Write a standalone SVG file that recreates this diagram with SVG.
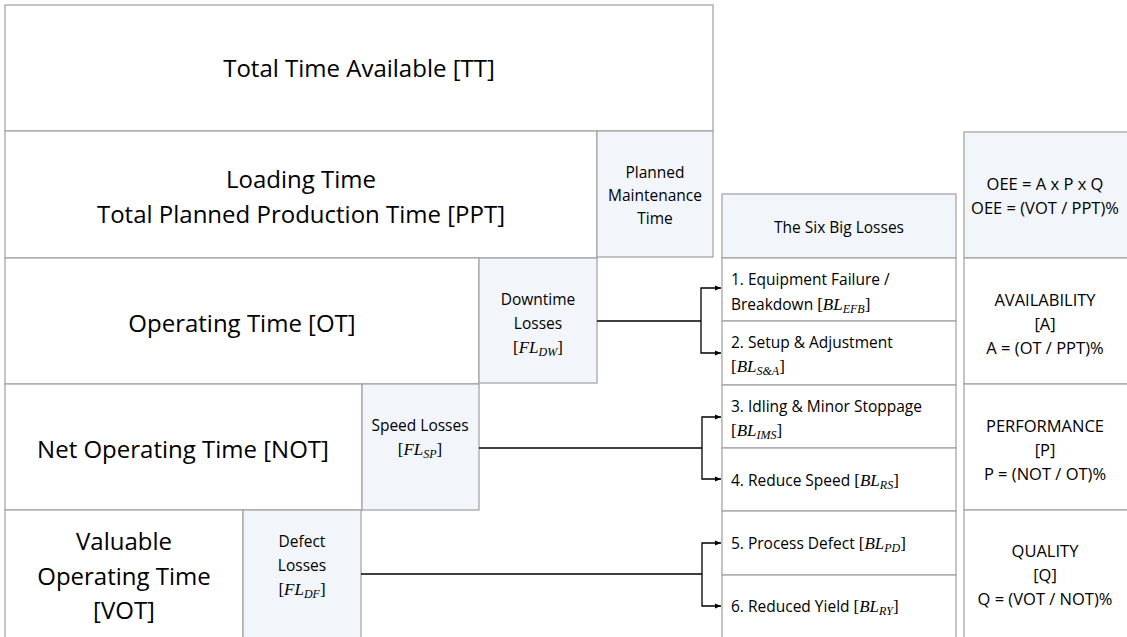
<svg xmlns="http://www.w3.org/2000/svg" width="1127" height="637" viewBox="0 0 1127 637">
  <style>
    .box { fill: #ffffff; stroke: #a6a6a6; stroke-width: 1.3; }
    .loss { fill: #f2f5fa; stroke: #a6a6a6; stroke-width: 1.3; }
    .big { font-family: "Open Sans", "Liberation Sans", sans-serif; font-size: 24px; fill: #000; text-anchor: middle; }
    .sm { font-family: "Open Sans", "Liberation Sans", sans-serif; font-size: 15.5px; fill: #000; text-anchor: middle; }
    .rt { font-size: 16.5px; }
    .lft { text-anchor: start; }
    .m { font-family: "Liberation Serif", "DejaVu Serif", serif; font-style: italic; font-size: 17px; }
    .ms { font-family: "Liberation Serif", "DejaVu Serif", serif; font-style: italic; font-size: 12px; }
    .br { font-family: "Liberation Serif", "DejaVu Serif", serif; font-size: 17px; }
    .conn { fill: none; stroke: #000; stroke-width: 1.3; }
  </style>
  <defs>
    <marker id="arrow" viewBox="0 0 10 10" refX="10" refY="5" markerWidth="6" markerHeight="6" orient="auto" markerUnits="userSpaceOnUse">
      <path d="M0,1 L10,5 L0,9 Z" fill="#000"/>
    </marker>
  </defs>

  <!-- time stack -->
  <g id="total-time">
    <rect class="box" x="5" y="5" width="708" height="126"/>
    <text class="big" x="359" y="77" font-size="26.5">Total Time Available [TT]</text>
  </g>
  <g id="loading-time">
    <rect class="box" x="5" y="131" width="592" height="127"/>
    <text class="big" x="301" y="188">Loading Time</text>
    <text class="big" x="301" y="223">Total Planned Production Time [PPT]</text>
  </g>
  <g id="planned-maintenance">
    <rect class="loss" x="597" y="131" width="116" height="126"/>
    <text class="sm" x="655" y="178">Planned</text>
    <text class="sm" x="655" y="201">Maintenance</text>
    <text class="sm" x="655" y="224">Time</text>
  </g>
  <g id="operating-time">
    <rect class="box" x="5" y="258" width="474" height="126"/>
    <text class="big" x="242" y="332">Operating Time [OT]</text>
  </g>
  <g id="downtime-losses">
    <rect class="loss" x="479" y="258" width="118" height="125"/>
    <text class="sm" x="538" y="305">Downtime</text>
    <text class="sm" x="538" y="329">Losses</text>
    <text class="sm" x="538" y="353"><tspan class="br">[</tspan><tspan class="m">FL</tspan><tspan class="ms" dy="3">DW</tspan><tspan class="br" dy="-3">]</tspan></text>
  </g>
  <g id="net-operating-time">
    <rect class="box" x="5" y="384" width="357" height="126"/>
    <text class="big" x="183" y="458">Net Operating Time [NOT]</text>
  </g>
  <g id="speed-losses">
    <rect class="loss" x="362" y="384" width="117" height="126"/>
    <text class="sm" x="420" y="431">Speed Losses</text>
    <text class="sm" x="420" y="455"><tspan class="br">[</tspan><tspan class="m">FL</tspan><tspan class="ms" dy="3">SP</tspan><tspan class="br" dy="-3">]</tspan></text>
  </g>
  <g id="valuable-operating-time">
    <rect class="box" x="5" y="510" width="238" height="130"/>
    <text class="big" x="124" y="550">Valuable</text>
    <text class="big" x="124" y="585">Operating Time</text>
    <text class="big" x="124" y="619">[VOT]</text>
  </g>
  <g id="defect-losses">
    <rect class="loss" x="243" y="510" width="118" height="130"/>
    <text class="sm" x="302" y="547">Defect</text>
    <text class="sm" x="302" y="571">Losses</text>
    <text class="sm" x="302" y="595"><tspan class="br">[</tspan><tspan class="m">FL</tspan><tspan class="ms" dy="3">DF</tspan><tspan class="br" dy="-3">]</tspan></text>
  </g>

  <!-- six big losses table -->
  <g id="six-big-losses">
    <rect class="loss" x="722" y="194" width="234" height="64"/>
    <text class="sm" x="839" y="233">The Six Big Losses</text>
  </g>
  <g id="loss-1">
    <rect class="box" x="722" y="258" width="234" height="63"/>
    <text class="sm lft" x="731" y="285">1. Equipment Failure /</text>
    <text class="sm lft" x="731" y="310">Breakdown <tspan class="br">[</tspan><tspan class="m">BL</tspan><tspan class="ms" dy="3">EFB</tspan><tspan class="br" dy="-3">]</tspan></text>
  </g>
  <g id="loss-2">
    <rect class="box" x="722" y="321" width="234" height="64"/>
    <text class="sm lft" x="731" y="348">2. Setup &amp; Adjustment</text>
    <text class="sm lft" x="731" y="372"><tspan class="br">[</tspan><tspan class="m">BL</tspan><tspan class="ms" dy="3">S&amp;A</tspan><tspan class="br" dy="-3">]</tspan></text>
  </g>
  <g id="loss-3">
    <rect class="box" x="722" y="385" width="234" height="63"/>
    <text class="sm lft" x="731" y="412">3. Idling &amp; Minor Stoppage</text>
    <text class="sm lft" x="731" y="436"><tspan class="br">[</tspan><tspan class="m">BL</tspan><tspan class="ms" dy="3">IMS</tspan><tspan class="br" dy="-3">]</tspan></text>
  </g>
  <g id="loss-4">
    <rect class="box" x="722" y="448" width="234" height="63"/>
    <text class="sm lft" x="731" y="486">4. Reduce Speed <tspan class="br">[</tspan><tspan class="m">BL</tspan><tspan class="ms" dy="3">RS</tspan><tspan class="br" dy="-3">]</tspan></text>
  </g>
  <g id="loss-5">
    <rect class="box" x="722" y="511" width="234" height="64"/>
    <text class="sm lft" x="731" y="549">5. Process Defect <tspan class="br">[</tspan><tspan class="m">BL</tspan><tspan class="ms" dy="3">PD</tspan><tspan class="br" dy="-3">]</tspan></text>
  </g>
  <g id="loss-6">
    <rect class="box" x="722" y="575" width="234" height="66"/>
    <text class="sm lft" x="731" y="612">6. Reduced Yield <tspan class="br">[</tspan><tspan class="m">BL</tspan><tspan class="ms" dy="3">RY</tspan><tspan class="br" dy="-3">]</tspan></text>
  </g>

  <!-- OEE factors -->
  <g id="oee">
    <rect class="loss" x="964" y="132" width="170" height="126"/>
    <text class="sm rt" x="1045" y="190">OEE = A x P x Q</text>
    <text class="sm rt" x="1045" y="214">OEE = (VOT / PPT)%</text>
  </g>
  <g id="availability">
    <rect class="box" x="964" y="258" width="170" height="126"/>
    <text class="sm rt" x="1045" y="306">AVAILABILITY</text>
    <text class="sm rt" x="1045" y="330">[A]</text>
    <text class="sm rt" x="1045" y="354">A = (OT / PPT)%</text>
  </g>
  <g id="performance">
    <rect class="box" x="964" y="384" width="170" height="126"/>
    <text class="sm rt" x="1045" y="432">PERFORMANCE</text>
    <text class="sm rt" x="1045" y="456">[P]</text>
    <text class="sm rt" x="1045" y="480">P = (NOT / OT)%</text>
  </g>
  <g id="quality">
    <rect class="box" x="964" y="510" width="170" height="131"/>
    <text class="sm rt" x="1045" y="557">QUALITY</text>
    <text class="sm rt" x="1045" y="581">[Q]</text>
    <text class="sm rt" x="1045" y="605">Q = (VOT / NOT)%</text>
  </g>

  <!-- connectors: each loss group fans out to its two big losses -->
  <g id="connectors">
    <path class="conn" d="M597,321 H701"/>
    <path class="conn" d="M701,321 V288 H721" marker-end="url(#arrow)"/>
    <path class="conn" d="M701,321 V353 H721" marker-end="url(#arrow)"/>
    <path class="conn" d="M479,448 H702"/>
    <path class="conn" d="M702,448 V417 H721" marker-end="url(#arrow)"/>
    <path class="conn" d="M702,448 V479 H721" marker-end="url(#arrow)"/>
    <path class="conn" d="M361,574 H702"/>
    <path class="conn" d="M702,574 V543 H721" marker-end="url(#arrow)"/>
    <path class="conn" d="M702,574 V606 H721" marker-end="url(#arrow)"/>
  </g>
</svg>
